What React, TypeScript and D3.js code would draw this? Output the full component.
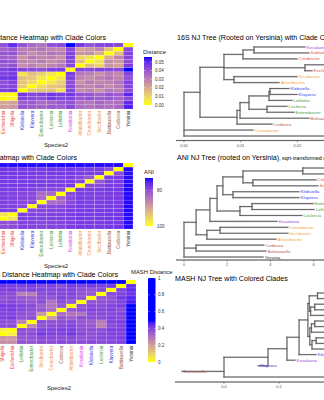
import React from "react";
import * as d3 from "d3";

const FONT = '"Liberation Sans", Arial, Helvetica, sans-serif';

// ---------------- heatmap data ----------------
const speciesOrderA = [
  "Salmonella", "Citrobacter", "Escherichia", "Shigella", "Klebsiella", "Kluyvera",
  "Enterobacter", "Leclercia", "Lelliottia", "Kosakonia", "Atlantibacter", "Cronobacter",
  "Siccibacter", "Buttiauxella", "Cedecea", "Yersinia",
];
// rows listed top -> bottom (reverse of column order)
const dist16S = [
  [0.052, 0.050, 0.042, 0.050, 0.041, 0.036, 0.033, 0.042, 0.043, 0.056, 0.047, 0.041, 0.044, 0.045, 0.043, 0],
  [0.036, 0.034, 0.037, 0.039, 0.030, 0.031, 0.033, 0.029, 0.028, 0.043, 0.022, 0.024, 0.029, 0.015, 0, 0.043],
  [0.034, 0.033, 0.040, 0.041, 0.032, 0.027, 0.030, 0.033, 0.031, 0.044, 0.025, 0.027, 0.019, 0, 0.015, 0.045],
  [0.035, 0.036, 0.038, 0.037, 0.025, 0.032, 0.028, 0.030, 0.026, 0.045, 0.010, 0.007, 0, 0.019, 0.029, 0.044],
  [0.033, 0.032, 0.041, 0.040, 0.029, 0.028, 0.031, 0.027, 0.030, 0.043, 0.015, 0, 0.007, 0.027, 0.024, 0.042],
  [0.035, 0.034, 0.039, 0.041, 0.027, 0.030, 0.026, 0.029, 0.032, 0.044, 0, 0.015, 0.010, 0.025, 0.022, 0.046],
  [0.043, 0.041, 0.045, 0.047, 0.044, 0.043, 0.042, 0.045, 0.046, 0, 0.044, 0.043, 0.045, 0.044, 0.043, 0.056],
  [0.038, 0.040, 0.044, 0.046, 0.007, 0.015, 0.011, 0.006, 0, 0.046, 0.032, 0.030, 0.026, 0.031, 0.028, 0.044],
  [0.039, 0.037, 0.047, 0.048, 0.015, 0.013, 0.005, 0, 0.006, 0.045, 0.029, 0.027, 0.030, 0.033, 0.029, 0.041],
  [0.037, 0.035, 0.042, 0.045, 0.014, 0.009, 0, 0.005, 0.011, 0.042, 0.026, 0.031, 0.028, 0.030, 0.033, 0.045],
  [0.038, 0.039, 0.043, 0.044, 0.012, 0, 0.009, 0.013, 0.015, 0.043, 0.030, 0.028, 0.032, 0.027, 0.031, 0.044],
  [0.040, 0.038, 0.045, 0.047, 0, 0.012, 0.014, 0.015, 0.007, 0.044, 0.027, 0.029, 0.025, 0.032, 0.030, 0.042],
  [0.024, 0.022, 0.002, 0, 0.047, 0.044, 0.045, 0.048, 0.046, 0.047, 0.041, 0.040, 0.037, 0.041, 0.039, 0.051],
  [0.023, 0.021, 0, 0.002, 0.045, 0.043, 0.042, 0.047, 0.044, 0.045, 0.039, 0.041, 0.038, 0.040, 0.037, 0.043],
  [0.014, 0, 0.021, 0.022, 0.038, 0.039, 0.035, 0.037, 0.040, 0.041, 0.034, 0.032, 0.036, 0.033, 0.034, 0.050],
  [0, 0.014, 0.023, 0.024, 0.040, 0.038, 0.037, 0.039, 0.038, 0.043, 0.035, 0.033, 0.035, 0.034, 0.036, 0.052],
];
const aniValues = [
  [73.6, 73.5, 73.6, 73.5, 73.4, 73.5, 73.6, 73.5, 73.5, 73.4, 73.5, 73.6, 73.5, 73.7, 73.6, 100],
  [77.2, 77.4, 77.1, 77.2, 77.3, 77.5, 77.6, 77.4, 77.5, 77.3, 77.6, 77.8, 77.7, 79.5, 100, 73.6],
  [77.4, 77.5, 77.3, 77.3, 77.4, 77.6, 77.8, 77.6, 77.7, 77.5, 77.8, 77.9, 77.8, 100, 79.5, 73.7],
  [77.6, 77.8, 77.5, 77.5, 77.7, 77.9, 78.1, 78.0, 78.2, 77.8, 79.2, 81.0, 100, 77.8, 77.7, 73.5],
  [77.7, 77.9, 77.6, 77.6, 77.6, 77.8, 78.0, 78.1, 78.0, 77.9, 79.0, 100, 81.0, 77.9, 77.8, 73.6],
  [77.5, 77.7, 77.4, 77.4, 77.6, 77.7, 77.9, 77.8, 77.9, 77.7, 100, 79.0, 79.2, 77.8, 77.6, 73.5],
  [78.0, 78.2, 77.9, 77.9, 78.0, 78.3, 79.2, 79.0, 79.1, 100, 77.7, 77.9, 77.8, 77.5, 77.3, 73.4],
  [78.6, 78.8, 78.2, 78.3, 78.7, 79.0, 82.8, 82.5, 100, 79.1, 77.9, 78.0, 78.2, 77.7, 77.5, 73.5],
  [78.5, 78.7, 78.1, 78.2, 78.6, 79.0, 83.0, 100, 82.5, 79.0, 77.8, 78.1, 78.0, 77.6, 77.4, 73.5],
  [78.8, 79.0, 78.4, 78.5, 78.8, 79.3, 100, 83.0, 82.8, 79.2, 77.9, 78.0, 78.1, 77.8, 77.6, 73.6],
  [78.6, 78.7, 78.3, 78.3, 79.0, 100, 79.3, 79.0, 79.0, 78.3, 77.7, 77.8, 77.9, 77.6, 77.5, 73.5],
  [78.4, 78.5, 78.0, 78.1, 100, 79.0, 78.8, 78.6, 78.7, 78.0, 77.6, 77.6, 77.7, 77.4, 77.3, 73.4],
  [79.6, 79.8, 96.8, 100, 78.1, 78.3, 78.5, 78.2, 78.3, 77.9, 77.4, 77.6, 77.5, 77.3, 77.2, 73.5],
  [79.8, 80.0, 100, 96.8, 78.0, 78.3, 78.4, 78.1, 78.2, 77.9, 77.4, 77.6, 77.5, 77.3, 77.1, 73.6],
  [81.5, 100, 80.0, 79.8, 78.5, 78.7, 79.0, 78.7, 78.8, 78.2, 77.7, 77.9, 77.8, 77.5, 77.4, 73.5],
  [100, 81.5, 79.8, 79.6, 78.4, 78.6, 78.8, 78.5, 78.6, 78.0, 77.5, 77.7, 77.6, 77.4, 77.2, 73.6],
];
const speciesOrderMash = [
  "Salmonella", "Citrobacter", "Shigella", "Escherichia", "Lelliottia", "Enterobacter",
  "Siccibacter", "Cronobacter", "Cedecea", "Atlantibacter", "Kosakonia", "Klebsiella",
  "Leclercia", "Kluyvera", "Buttiauxella", "Yersinia",
];
const mashValues = [
  [1, 1, 1, 1, 1, 1, 1, 1, 1, 1, 1, 1, 1, 1, 1, 0],
  [0.40, 0.41, 0.42, 0.41, 0.40, 0.41, 0.39, 0.40, 0.38, 0.41, 0.40, 0.42, 0.40, 0.41, 0, 0.44],
  [0.39, 0.40, 0.40, 0.41, 0.38, 0.40, 0.40, 0.39, 0.40, 0.40, 0.38, 0.37, 0.39, 0, 0.40, 0.45],
  [0.38, 0.39, 0.39, 0.38, 0.27, 0.28, 0.38, 0.39, 0.39, 0.40, 0.37, 0.36, 0, 0.39, 0.40, 0.43],
  [0.39, 0.38, 0.37, 0.38, 0.36, 0.35, 0.38, 0.37, 0.40, 0.39, 0.37, 0, 0.36, 0.37, 0.42, 0.46],
  [0.38, 0.37, 0.38, 0.39, 0.37, 0.36, 0.38, 0.30, 0.38, 0.36, 0, 0.37, 0.37, 0.38, 0.40, 0.47],
  [0.38, 0.39, 0.42, 0.41, 0.40, 0.39, 0.34, 0.30, 0.36, 0, 0.37, 0.39, 0.38, 0.40, 0.41, 1],
  [0.39, 0.38, 0.40, 0.41, 0.39, 0.38, 0.36, 0.31, 0, 0.36, 0.38, 0.40, 0.39, 0.40, 0.38, 1],
  [0.38, 0.39, 0.40, 0.40, 0.38, 0.37, 0.22, 0, 0.31, 0.30, 0.30, 0.38, 0.39, 0.39, 0.40, 1],
  [0.39, 0.38, 0.40, 0.41, 0.37, 0.38, 0, 0.22, 0.36, 0.34, 0.38, 0.38, 0.38, 0.40, 0.39, 1],
  [0.36, 0.37, 0.38, 0.37, 0.26, 0, 0.38, 0.37, 0.38, 0.39, 0.36, 0.35, 0.28, 0.40, 0.41, 1],
  [0.37, 0.36, 0.38, 0.38, 0, 0.26, 0.37, 0.38, 0.39, 0.40, 0.37, 0.36, 0.27, 0.38, 0.40, 1],
  [0.24, 0.23, 0.03, 0, 0.38, 0.37, 0.40, 0.40, 0.41, 0.41, 0.38, 0.38, 0.38, 0.41, 0.41, 1],
  [0.24, 0.24, 0, 0.03, 0.38, 0.38, 0.42, 0.40, 0.40, 0.42, 0.39, 0.37, 0.39, 0.40, 0.40, 1],
  [0.20, 0, 0.23, 0.22, 0.36, 0.37, 0.39, 0.39, 0.38, 0.39, 0.37, 0.38, 0.39, 0.40, 0.41, 1],
  [0, 0.20, 0.24, 0.24, 0.37, 0.36, 0.38, 0.38, 0.39, 0.38, 0.38, 0.39, 0.38, 0.39, 0.40, 1],
];
const dist16STicks = [0, 0.01, 0.02, 0.03, 0.04, 0.05];
const aniTicks = [80, 100];
const mashTicks = [0, 0.2, 0.4, 0.6, 0.8, 1];

// ---------------- tree data ----------------
type TNode = { name?: string; len: number; children?: TNode[] };
const tip = (name: string, len: number): TNode => ({ name, len });
const clade = (len: number, ...children: TNode[]): TNode => ({ len, children });

const tree16S = clade(0,
  clade(0.00282,
    clade(0.00423,
      clade(0.00336, clade(0.00194, tip("Kosakonia", 0.00899), tip("Salmonella", 0.0097)), tip("Citrobacter", 0.00952)),
      clade(0.01429, tip("Shigella", 0.00616), tip("Escherichia", 0.00123)),
      clade(0.00177, tip("Siccibacter", 0.01111), tip("Atlantibacter", 0.00794))
    ),
    clade(0.00653,
      clade(0.00053,
        clade(0.00158,
          clade(0.00353, clade(0.00018, tip("Klebsiella", 0.00335), tip("Kluyvera", 0.00476)), tip("Lelliottia", 0.00406)),
          clade(0.00318, tip("Leclercia", 0.00353), tip("Enterobacter", 0.00476))
        ),
        tip("Buttiauxella", 0.01217)
      ),
      tip("Cedecea", 0.00617)
    )
  ),
  tip("Cronobacter", 0.01217),
  tip("Yersinia", 0.03)
);

const treeANI = clade(0,
  clade(0.56,
    clade(0.64,
      clade(0.33,
        clade(0.27,
          clade(0.93, clade(2.77, tip("Escherichia", 1.7), tip("Shigella", 1.6)), clade(0.46, tip("Citrobacter", 2.92), tip("Salmonella", 3.01))),
          clade(0.47, tip("Klebsiella", 3.05), tip("Kluyvera", 3.05))
        ),
        clade(1.06, clade(0.56, tip("Enterobacter", 2.82), tip("Lelliottia", 2.87)), tip("Leclercia", 2.87))
      ),
      tip("Kosakonia", 3.11)
    ),
    clade(0.5, clade(0.61, tip("Cronobacter", 3.14), tip("Siccibacter", 3.14)), tip("Atlantibacter", 3.2))
  ),
  clade(0.56, tip("Cedecea", 3.14), tip("Buttiauxella", 3.24)),
  tip("Yersinia", 3.66)
);

const treeMASH = clade(0,
  clade(0.16,
    clade(0.069,
      clade(0.044,
        clade(0.032,
          clade(0.005,
            clade(0.03, tip("Salmonella", 0.08), tip("Citrobacter", 0.09)),
            clade(0.005, clade(0.015, tip("Escherichia", 0.07), tip("Shigella", 0.07)), tip("Cedecea", 0.125))
          ),
          clade(0.007,
            clade(0.006, clade(0.012, tip("Enterobacter", 0.08), tip("Leclercia", 0.09)), tip("Lelliottia", 0.112)),
            clade(0.008, clade(0.015, tip("Cronobacter", 0.075), tip("Siccibacter", 0.075)), tip("Atlantibacter", 0.1))
          )
        ),
        tip("Klebsiella", 0.062)
      ),
      tip("Kosakonia", 0.029)
    ),
    tip("Kluyvera", -0.036)
  ),
  tip("Buttiauxella", -0.153),
  tip("Yersinia", 0.6)
);
const tree16STicks = [0, 0.01, 0.02];
const treeANITicks = [0, 2, 4, 6];
const treeMASHTicks = [0, 0.2, 0.4];

// ---------------- colours ----------------
const cladeOf: Record<string, string> = {
  Escherichia: "ent", Shigella: "ent", Salmonella: "ent", Citrobacter: "ent",
  Klebsiella: "kle", Kluyvera: "kle",
  Enterobacter: "grn", Leclercia: "grn", Lelliottia: "grn",
  Kosakonia: "kos",
  Atlantibacter: "cro", Cronobacter: "cro", Siccibacter: "cro",
  Buttiauxella: "but", Cedecea: "but",
  Yersinia: "yer",
};
const hmCladeColor: Record<string, string> = {
  ent: "#EA4B3E", kle: "#3B3BE6", grn: "#3E9A3E", kos: "#E03EE6", cro: "#EE8E45", but: "#A0563A", yer: "#333333",
};
const treeCladeColor: Record<string, string> = {
  ent: "#EE4A4A", kle: "#3C3CF0", grn: "#4A9E3A", kos: "#A040E8", cro: "#F5A83C", but: "#B0584E", yer: "#222222",
};

const col16S = d3.scaleLinear().domain([0, 0.0558]).range(["#FFFF00", "#0000FF"] as any).interpolate(d3.interpolateLab as any) as any;
const colANI = d3.scaleLinear().domain([100, 73.1]).range(["#FFFF00", "#0000FF"] as any).interpolate(d3.interpolateLab as any) as any;
const colMASH = d3.scaleLinear().domain([0, 0.5, 1]).range(["#FFFF00", "#0000FF", "#0000FF"] as any).interpolate(d3.interpolateLab as any).clamp(true) as any;

const TITLE_SIZE = 7.1;

// ---------------- components ----------------
function Heatmap(p: {
  cols: string[]; values: number[][]; xr: [number, number]; yr: [number, number]; color: any;
  title: string; titleEnd: number; titleY: number; xlabX: number; xlabY: number;
}) {
  const rows = [...p.cols].reverse();
  const x = d3.scaleBand().domain(p.cols).range(p.xr);
  const y = d3.scaleBand().domain(rows).range(p.yr);
  return (
    <g>
      {p.values.map((row, r) =>
        row.map((v, c) => (
          <rect key={`${r}-${c}`} x={x(p.cols[c])} y={y(rows[r])} width={x.bandwidth()} height={y.bandwidth()}
            fill={p.color(v)} stroke="#ffffff" strokeOpacity={0.35} strokeWidth={0.4} />
        ))
      )}
      {p.cols.map((c) => (
        <text key={c} transform={`translate(${(x(c) as number) + x.bandwidth() / 2},${p.yr[1] + 1.8}) rotate(-90)`}
          textAnchor="end" dy="0.35em" fontSize={4.5} fill={hmCladeColor[cladeOf[c]]}>{c}</text>
      ))}
      <text x={p.xlabX} y={p.xlabY} textAnchor="middle" fontSize={5.9} fill="#1a1a1a">Species2</text>
      <text x={p.titleEnd} y={p.titleY} textAnchor="end" fontSize={TITLE_SIZE} fill="#000">{p.title}</text>
    </g>
  );
}

function ColorBar(p: {
  id: string; x: number; w: number; y0: number; y1: number; domain: number[]; color: any;
  ticks: number[]; fmt: (v: number) => string; title: string; tx: number; ty: number; lx: number;
}) {
  const ys = d3.scaleLinear().domain(p.domain).range([p.y1, p.y0]);
  const stops = d3.range(0, 1.0001, 0.05);
  return (
    <g>
      <defs>
        <linearGradient id={p.id} x1="0" y1="0" x2="0" y2="1">
          {stops.map((t) => (
            <stop key={t} offset={t} stopColor={p.color(ys.invert(p.y0 + t * (p.y1 - p.y0)))} />
          ))}
        </linearGradient>
      </defs>
      <text x={p.tx} y={p.ty} fontSize={5.9} fill="#1a1a1a">{p.title}</text>
      <rect x={p.x} y={p.y0} width={p.w} height={p.y1 - p.y0} fill={`url(#${p.id})`} />
      {p.ticks.map((t) => (
        <g key={t}>
          <line x1={p.x} x2={p.x + p.w * 0.2} y1={ys(t)} y2={ys(t)} stroke="#fff" strokeWidth={0.4} />
          <line x1={p.x + p.w * 0.8} x2={p.x + p.w} y1={ys(t)} y2={ys(t)} stroke="#fff" strokeWidth={0.4} />
          <text x={p.lx} y={ys(t)} dy="0.35em" fontSize={4.5} fill="#333">{p.fmt(t)}</text>
        </g>
      ))}
    </g>
  );
}

function Tree(p: {
  data: TNode; domain: [number, number]; range: [number, number]; leafY: [number, number];
  axisY: number; axisX0: number; ticks: number[]; fmt: (v: number) => string;
}) {
  const x = d3.scaleLinear().domain(p.domain).range(p.range);
  const root: any = d3.hierarchy(p.data, (d: TNode) => d.children);
  root.eachBefore((n: any) => { n.dist = n.parent ? n.parent.dist + n.data.len : 0; });
  const leaves = root.leaves();
  const ly = d3.scaleLinear().domain([0, leaves.length - 1]).range(p.leafY);
  leaves.forEach((l: any, i: number) => { l.yy = ly(i); });
  root.eachAfter((n: any) => { if (n.children) n.yy = d3.mean(n.children, (c: any) => c.yy); });
  const nodes = root.descendants();
  const segs: { x1: number; x2: number; y1: number; y2: number }[] = [];
  nodes.forEach((n: any) => {
    if (n.parent) segs.push({ x1: x(n.parent.dist), x2: x(n.dist), y1: n.yy, y2: n.yy });
    if (n.children) segs.push({ x1: x(n.dist), x2: x(n.dist), y1: n.children[0].yy, y2: n.children[n.children.length - 1].yy });
  });
  return (
    <g>
      {segs.map((s, i) => (
        <line key={`u${i}`} {...s} stroke="#c6c6c6" strokeWidth={1.6} strokeLinecap="square" />
      ))}
      {segs.map((s, i) => (
        <line key={`c${i}`} {...s} stroke="#474747" strokeWidth={0.75} strokeLinecap="square" />
      ))}
      {leaves.map((l: any) => (
        <text key={l.data.name} x={x(l.dist) + 1.6} y={l.yy} dy="0.35em" fontSize={4.4}
          fill={treeCladeColor[cladeOf[l.data.name]]}>{l.data.name}</text>
      ))}
      <line x1={p.axisX0} x2={330} y1={p.axisY} y2={p.axisY} stroke="#c6c6c6" strokeWidth={1.6} />
      <line x1={p.axisX0} x2={330} y1={p.axisY} y2={p.axisY} stroke="#474747" strokeWidth={0.75} />
      {p.ticks.map((t) => (
        <g key={t}>
          <line x1={x(t)} x2={x(t)} y1={p.axisY} y2={p.axisY + 1.8} stroke="#555" strokeWidth={0.6} />
          <text x={x(t)} y={p.axisY + 6} textAnchor="middle" fontSize={3.9} fill="#4d4d4d">{p.fmt(t)}</text>
        </g>
      ))}
    </g>
  );
}

export default function App() {
  return (
    <svg width={324} height={400} viewBox="0 0 324 400"
      style={{ position: "absolute", left: 0, top: 0, background: "#fff", fontFamily: FONT }}>
      <rect x={0} y={0} width={324} height={400} fill="#fff" />

      {/* panel 1: 16S distance heatmap */}
      <Heatmap cols={speciesOrderA} values={dist16S} xr={[-20.8, 133]} yr={[43, 109]} color={col16S}
        title="16S Distance Heatmap with Clade Colors" titleEnd={106} titleY={39.8} xlabX={56} xlabY={147} />
      <ColorBar id="g1" x={144} w={8} y0={57} y1={105} domain={[0, 0.0558]} color={col16S}
        ticks={dist16STicks} fmt={d3.format(".2f")} title="Distance" tx={143} ty={54} lx={155} />

      {/* panel 2: ANI heatmap */}
      <Heatmap cols={speciesOrderA} values={aniValues} xr={[-20.8, 133]} yr={[163, 229]} color={colANI}
        title="ANI Heatmap with Clade Colors" titleEnd={77} titleY={159.8} xlabX={56} xlabY={267.5} />
      <ColorBar id="g2" x={145} w={8} y0={178} y1={226} domain={[100, 73.1]} color={colANI}
        ticks={aniTicks} fmt={d3.format("d")} title="ANI" tx={144} ty={174} lx={157} />

      {/* panel 3: MASH heatmap */}
      <Heatmap cols={speciesOrderMash} values={mashValues} xr={[-22.8, 136]} yr={[280, 344]} color={colMASH}
        title="MASH Distance Heatmap with Clade Colors" titleEnd={118} titleY={276.8} xlabX={59} xlabY={390} />
      <ColorBar id="g3" x={148} w={7.5} y0={278} y1={362} domain={[0, 1]} color={colMASH}
        ticks={mashTicks} fmt={(v) => (v === 0 || v === 1 ? String(v) : d3.format(".1f")(v))}
        title="MASH Distance" tx={131} ty={274} lx={158} />

      {/* trees */}
      <text x={177} y={39.8} fontSize={TITLE_SIZE} fill="#000">16S NJ Tree (Rooted on Yersinia) with Clade Colors</text>
      <Tree data={tree16S} domain={[0, 0.02]} range={[184, 297.4]} leafY={[47, 136]} axisY={140.5} axisX0={176}
        ticks={tree16STicks} fmt={d3.format(".2f")} />

      <text x={177} y={159.8} fontSize={TITLE_SIZE} fill="#000">ANI NJ Tree (rooted on Yersinia)<tspan fontSize={5.4}>, sqrt-transformed distances</tspan></text>
      <Tree data={treeANI} domain={[0, 6]} range={[184, 313.6]} leafY={[168, 257]} axisY={260} axisX0={176}
        ticks={treeANITicks} fmt={d3.format("d")} />

      <text x={175} y={280.8} fontSize={TITLE_SIZE} fill="#000">MASH NJ Tree with Colored Clades</text>
      <Tree data={treeMASH} domain={[0, 0.2]} range={[224, 279]} leafY={[293, 377]} axisY={382} axisX0={175}
        ticks={treeMASHTicks} fmt={d3.format(".1f")} />
    </svg>
  );
}
